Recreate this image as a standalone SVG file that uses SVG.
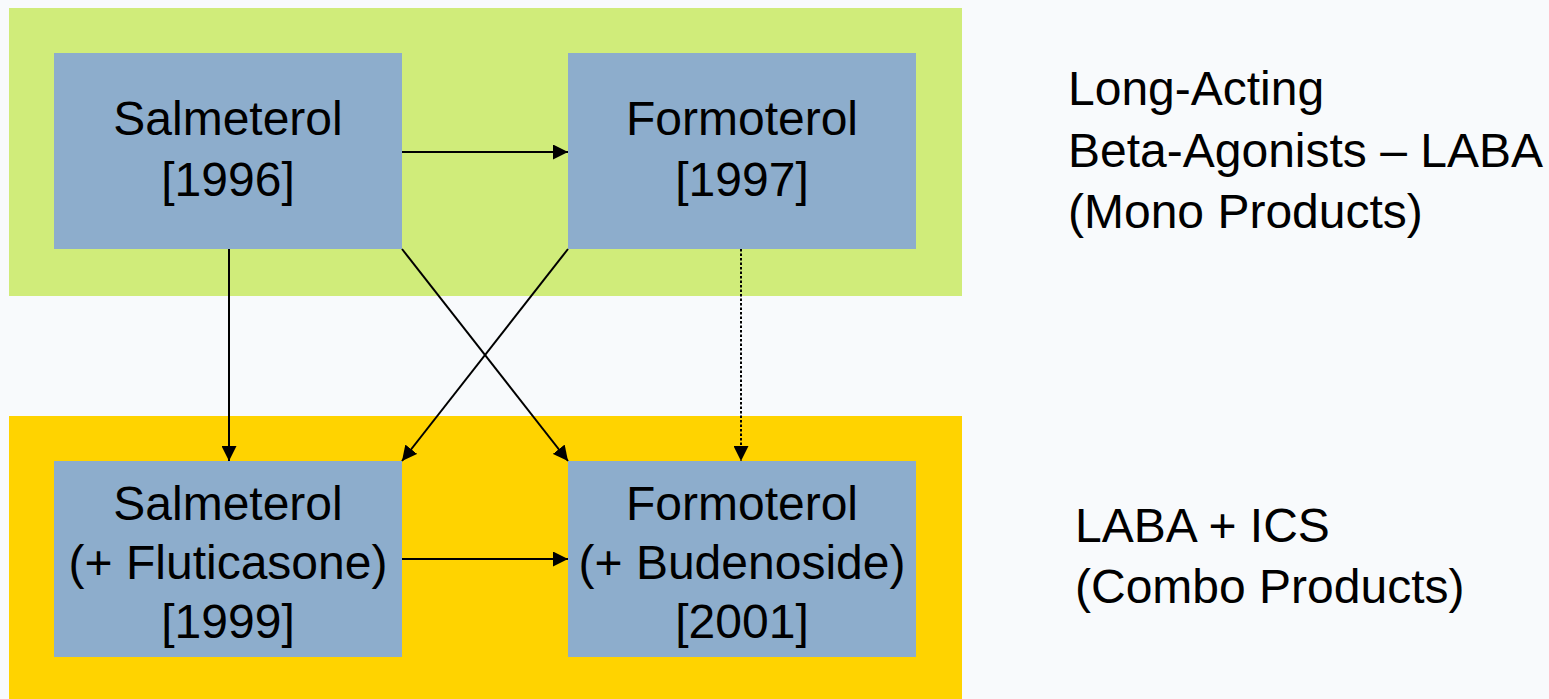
<svg xmlns="http://www.w3.org/2000/svg" width="1549" height="699" viewBox="0 0 1549 699">
<defs>
<style>
.t{font-family:"Liberation Sans",Arial,sans-serif;font-size:48px;fill:#000;}
.c{text-anchor:middle;}
.n{fill:#8DADCC;}
.e{stroke:#000;stroke-width:2;fill:none;marker-end:url(#ah);}
</style>
<marker id="ah" viewBox="0 0 10 10" refX="10" refY="5" markerWidth="15" markerHeight="15" markerUnits="userSpaceOnUse" orient="auto">
<path d="M0,0 L10,5 L0,10 z" fill="#000"/>
</marker>
</defs>
<rect width="1549" height="699" fill="#F8FAFC"/>
<rect id="band-laba" x="9" y="8" width="953" height="288" fill="#D0EC7A"/>
<rect id="band-combo" x="9" y="416" width="953" height="283" fill="#FFD300"/>
<g id="salmeterol">
<rect class="n" x="54" y="53" width="348" height="196"/>
<text class="t c" x="228" y="135">Salmeterol</text>
<text class="t c" x="228" y="196">[1996]</text>
</g>
<g id="formoterol">
<rect class="n" x="568" y="53" width="348" height="196"/>
<text class="t c" x="742" y="135">Formoterol</text>
<text class="t c" x="742" y="196">[1997]</text>
</g>
<g id="salmeterol-fluticasone">
<rect class="n" x="54" y="461" width="348" height="196"/>
<text class="t c" x="228" y="520">Salmeterol</text>
<text class="t c" x="228" y="579">(+ Fluticasone)</text>
<text class="t c" x="228" y="638">[1999]</text>
</g>
<g id="formoterol-budenoside">
<rect class="n" x="568" y="461" width="348" height="196"/>
<text class="t c" x="742" y="520">Formoterol</text>
<text class="t c" x="742" y="579">(+ Budenoside)</text>
<text class="t c" x="742" y="638">[2001]</text>
</g>
<g id="connectors">
<line class="e" x1="402" y1="152" x2="568" y2="152"/>
<line class="e" x1="229" y1="249" x2="229" y2="461"/>
<line class="e" x1="402" y1="249" x2="568" y2="461"/>
<line class="e" x1="568" y1="249" x2="402" y2="461"/>
<line class="e" x1="741" y1="249" x2="741" y2="461" stroke-width="2.5" stroke-dasharray="2.5,2"/>
<line class="e" x1="402" y1="559" x2="568" y2="559"/>
</g>
<g id="label-laba">
<text class="t" x="1068" y="105">Long-Acting</text>
<text class="t" x="1068" y="167">Beta-Agonists – LABA</text>
<text class="t" x="1068" y="228">(Mono Products)</text>
</g>
<g id="label-combo">
<text class="t" x="1075" y="542">LABA + ICS</text>
<text class="t" x="1075" y="603">(Combo Products)</text>
</g>
</svg>
